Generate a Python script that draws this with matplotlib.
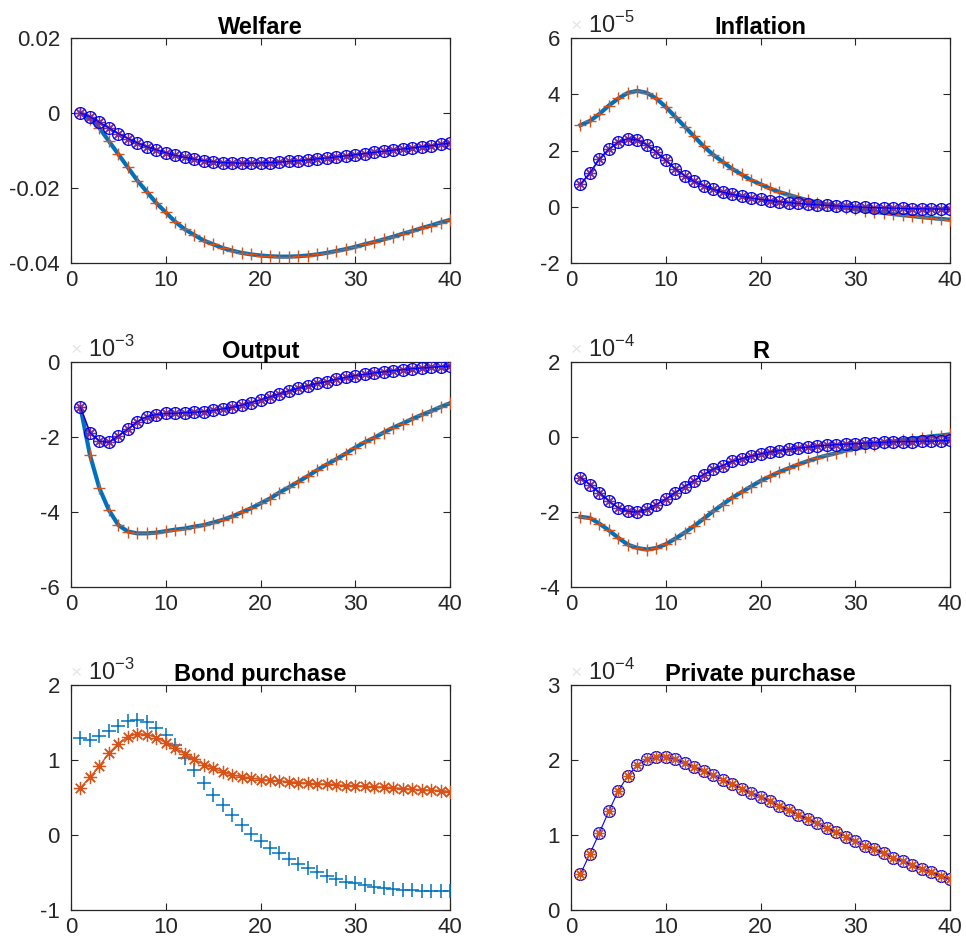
import matplotlib
matplotlib.use("Agg")
import matplotlib.pyplot as plt
import numpy as np

plt.rcParams['font.family'] = ['Liberation Sans', 'DejaVu Sans']

t = list(range(1, 41))

# Panel titles, y-limits, y-ticks and exponent labels
titles = ["Welfare", "Inflation", "Output", "R", "Bond purchase", "Private purchase"]
exponents = [None, -5, -3, -4, -3, -4]
ylims = [(-0.04, 0.02), (-2, 6), (-6, 0), (-4, 2), (-1, 2), (0, 3)]
yticks = [[-0.04, -0.02, 0, 0.02], [-2, 0, 2, 4, 6], [-6, -4, -2, 0], [-4, -2, 0, 2], [-1, 0, 1, 2], [0, 1, 2, 3]]
ytick_labels = [["-0.04", "-0.02", "0", "0.02"], ["-2", "0", "2", "4", "6"], ["-6", "-4", "-2", "0"],
                ["-4", "-2", "0", "2"], ["-1", "0", "1", "2"], ["0", "1", "2", "3"]]

# Welfare
welfare_a = [0, -0.0015, -0.004, -0.0075, -0.011, -0.0145, -0.018, -0.021, -0.024, -0.0265,
             -0.029, -0.031, -0.0325, -0.034, -0.035, -0.036, -0.0367, -0.0373, -0.0377, -0.038,
             -0.0382, -0.0383, -0.0383, -0.0382, -0.038, -0.0377, -0.0373, -0.0368, -0.0363, -0.0357,
             -0.035, -0.0344, -0.0337, -0.033, -0.0322, -0.0315, -0.0307, -0.03, -0.0292, -0.0285]
welfare_b = [0, -0.001, -0.0025, -0.004, -0.0055, -0.0068, -0.008, -0.009, -0.0098, -0.0106,
             -0.0113, -0.0118, -0.0123, -0.0127, -0.013, -0.0132, -0.0133, -0.0134, -0.0134, -0.0133,
             -0.0132, -0.0131, -0.0129, -0.0127, -0.0125, -0.0122, -0.012, -0.0117, -0.0114, -0.0111,
             -0.0108, -0.0105, -0.0102, -0.0099, -0.0096, -0.0093, -0.009, -0.0087, -0.0083, -0.008]

# Inflation (x 1e-5)
inflation_a = [2.9, 3.05, 3.3, 3.6, 3.85, 4.05, 4.12, 4.05, 3.85, 3.55,
               3.2, 2.85, 2.5, 2.15, 1.85, 1.6, 1.35, 1.15, 0.95, 0.8,
               0.65, 0.52, 0.42, 0.32, 0.23, 0.15, 0.08, 0.02, -0.04, -0.09,
               -0.14, -0.18, -0.22, -0.26, -0.3, -0.33, -0.37, -0.4, -0.43, -0.46]
inflation_b = [0.8, 1.2, 1.7, 2.05, 2.3, 2.42, 2.38, 2.2, 1.95, 1.65,
               1.35, 1.1, 0.9, 0.75, 0.62, 0.52, 0.44, 0.37, 0.31, 0.26,
               0.22, 0.18, 0.15, 0.12, 0.09, 0.07, 0.05, 0.03, 0.01, 0.0,
               -0.02, -0.03, -0.04, -0.05, -0.06, -0.07, -0.07, -0.08, -0.08, -0.09]

# Output (x 1e-3)
output_a = [-1.21, -2.48, -3.37, -3.95, -4.35, -4.52, -4.57, -4.57, -4.55, -4.51,
            -4.47, -4.44, -4.39, -4.35, -4.28, -4.21, -4.12, -4.01, -3.90, -3.77,
            -3.64, -3.48, -3.34, -3.19, -3.04, -2.88, -2.73, -2.59, -2.44, -2.28,
            -2.14, -2.02, -1.88, -1.75, -1.64, -1.52, -1.41, -1.31, -1.20, -1.10]
output_b = [-1.21, -1.88, -2.11, -2.14, -1.97, -1.79, -1.59, -1.46, -1.40, -1.37,
            -1.37, -1.35, -1.34, -1.32, -1.29, -1.25, -1.21, -1.15, -1.08, -1.01,
            -0.93, -0.85, -0.77, -0.70, -0.63, -0.57, -0.52, -0.46, -0.41, -0.36,
            -0.33, -0.29, -0.26, -0.23, -0.20, -0.18, -0.16, -0.14, -0.12, -0.11]

# R (x 1e-4)
r_a = [-2.13, -2.16, -2.31, -2.49, -2.69, -2.87, -2.96, -3.0, -2.96, -2.86,
       -2.71, -2.55, -2.37, -2.18, -1.98, -1.80, -1.62, -1.47, -1.32, -1.17,
       -1.05, -0.93, -0.83, -0.73, -0.64, -0.56, -0.49, -0.43, -0.36, -0.31,
       -0.26, -0.20, -0.16, -0.12, -0.08, -0.04, -0.02, 0.02, 0.04, 0.07]
r_b = [-1.08, -1.27, -1.48, -1.71, -1.89, -1.98, -2.0, -1.93, -1.80, -1.66,
       -1.48, -1.32, -1.16, -1.0, -0.86, -0.76, -0.65, -0.58, -0.51, -0.45,
       -0.40, -0.36, -0.33, -0.29, -0.27, -0.24, -0.22, -0.20, -0.19, -0.18,
       -0.16, -0.15, -0.14, -0.13, -0.12, -0.12, -0.11, -0.11, -0.10, -0.09]

# Bond purchase (x 1e-3)
bond_a = [1.29, 1.27, 1.32, 1.39, 1.46, 1.52, 1.54, 1.51, 1.43, 1.33,
          1.20, 1.03, 0.87, 0.70, 0.54, 0.40, 0.27, 0.13, 0.02, -0.08,
          -0.17, -0.24, -0.32, -0.38, -0.44, -0.49, -0.55, -0.58, -0.62, -0.64,
          -0.67, -0.69, -0.70, -0.72, -0.73, -0.73, -0.74, -0.74, -0.74, -0.74]
bond_b = [0.63, 0.77, 0.92, 1.09, 1.22, 1.31, 1.35, 1.34, 1.30, 1.23,
          1.16, 1.08, 1.01, 0.94, 0.89, 0.84, 0.80, 0.78, 0.76, 0.74,
          0.73, 0.72, 0.71, 0.70, 0.69, 0.68, 0.68, 0.67, 0.66, 0.66,
          0.65, 0.64, 0.64, 0.63, 0.62, 0.61, 0.60, 0.60, 0.59, 0.58]

# Private purchase (x 1e-4)
private_b = [0.48, 0.75, 1.03, 1.32, 1.59, 1.79, 1.93, 2.01, 2.04, 2.04,
             2.01, 1.96, 1.91, 1.85, 1.80, 1.74, 1.68, 1.62, 1.56, 1.51,
             1.45, 1.39, 1.33, 1.27, 1.21, 1.16, 1.09, 1.04, 0.98, 0.92,
             0.86, 0.81, 0.76, 0.70, 0.65, 0.60, 0.55, 0.51, 0.45, 0.41]

C_BLUE = "#0072BD"
C_ORANGE = "#D95319"
C_PURPLE = "#7E2F8E"
C_PUREBLUE = "#0000FF"
TXT = "#262626"

fig = plt.figure(figsize=(9.66, 9.49), dpi=100)
W, H = 966, 949
lefts = [71, 571]
tops = [38, 362, 685]
aw, ah = 379, 225
axes = []
for r in range(3):
    for c in range(2):
        ax = fig.add_axes([lefts[c] / W, 1 - (tops[r] + ah) / H, aw / W, ah / H])
        axes.append(ax)

STAR = (8, 2, 0)  # MATLAB-style asterisk (plus + cross)
ms_plus = 9
ms_circ = 8.5
ms_star = 8.5

def two_model(ax, a, b):
    ax.plot(t, a, '-', color=C_BLUE, lw=3.0, zorder=2)
    ax.plot(t, a, '+', color=C_ORANGE, ms=ms_plus, mew=1.0, zorder=3)
    ax.plot(t, b, '-', marker=STAR, color=C_PURPLE, lw=1.3, ms=ms_star, mew=0.9, zorder=4)
    ax.plot(t, b, '-o', color=C_PUREBLUE, lw=0.8, ms=ms_circ, mew=0.9, mfc='none', zorder=5)

two_model(axes[0], welfare_a, welfare_b)
two_model(axes[1], inflation_a, inflation_b)
two_model(axes[2], output_a, output_b)
two_model(axes[3], r_a, r_b)

axes[4].plot(t, bond_a, '+', color=C_BLUE, ms=ms_plus + 1, mew=1.1, ls='none', zorder=3)
axes[4].plot(t, bond_b, '-', marker=STAR, color=C_ORANGE, lw=1.0, ms=ms_star + 1, mew=0.9, zorder=4)

axes[5].plot(t, private_b, '-o', color=C_PUREBLUE, lw=0.8, ms=ms_circ, mew=0.9, mfc='none', zorder=3)
axes[5].plot(t, private_b, ls='none', marker=STAR, color=C_ORANGE, ms=ms_star, mew=0.9, zorder=4)

FS = 16
for i, ax in enumerate(axes):
    ax.set_xlim(0, 40)
    ax.set_ylim(*ylims[i])
    ax.set_xticks([0, 10, 20, 30, 40])
    ax.set_xticklabels(["0", "10", "20", "30", "40"])
    ax.set_yticks(yticks[i])
    ax.set_yticklabels(ytick_labels[i])
    ax.tick_params(direction='in', length=5, width=0.8, colors=TXT, labelsize=FS,
                   top=True, right=True)
    ax.tick_params(axis='y', pad=8)
    ax.tick_params(axis='x', pad=5)
    for s in ax.spines.values():
        s.set_color(TXT)
        s.set_linewidth(0.9)
    ax.set_title(titles[i], fontsize=17, fontweight='bold', color='black', pad=3)
    if exponents[i] is not None:
        ax.text(0.0, 1.012, "×", transform=ax.transAxes, fontsize=FS - 2,
                color="#e6e6e6", ha='left', va='bottom')
        ax.text(0.045, 1.0, r"10$^{\mathregular{%d}}$" % exponents[i], transform=ax.transAxes,
                fontsize=FS + 1, color=TXT, ha='left', va='bottom')

fig.savefig("out.png", dpi=100, facecolor='white')
